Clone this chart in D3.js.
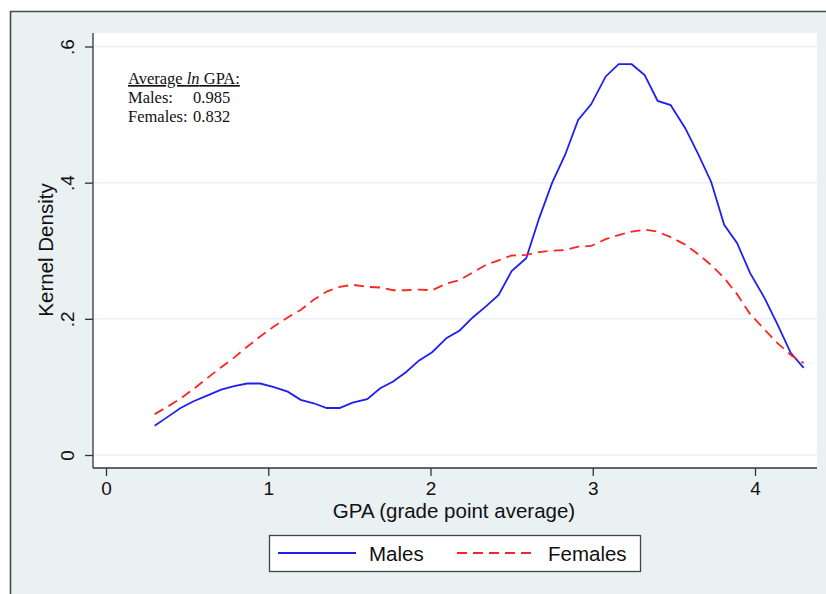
<!DOCTYPE html>
<html>
<head>
<meta charset="utf-8">
<script src="https://cdn.jsdelivr.net/npm/d3@7"></script>
<style>
  body { margin: 0; background: #fff; }
  svg text { font-family: "Liberation Sans", Arial, sans-serif; fill: #111; }
</style>
</head>
<body>
<svg id="densityChart" width="826" height="594"></svg>
<script>
// evaluation points of the kernel density (GPA)
var gpaPoints = [0.30, 0.38, 0.46, 0.54, 0.63, 0.71, 0.79, 0.87, 0.95, 1.03,
  1.12, 1.20, 1.28, 1.36, 1.44, 1.52, 1.61, 1.69, 1.77, 1.85,
  1.93, 2.01, 2.10, 2.18, 2.26, 2.34, 2.42, 2.50, 2.59, 2.67,
  2.75, 2.83, 2.91, 2.99, 3.08, 3.16, 3.24, 3.32, 3.40, 3.48,
  3.57, 3.65, 3.73, 3.81, 3.89, 3.97, 4.06, 4.14, 4.22, 4.30];
var malesDensity = [0.043, 0.056, 0.069, 0.079, 0.088, 0.096, 0.101, 0.105, 0.105, 0.100,
  0.093, 0.081, 0.076, 0.069, 0.069, 0.077, 0.082, 0.098, 0.108, 0.122,
  0.139, 0.151, 0.172, 0.183, 0.202, 0.218, 0.235, 0.270, 0.289, 0.348,
  0.400, 0.441, 0.492, 0.515, 0.556, 0.574, 0.574, 0.558, 0.520, 0.514,
  0.480, 0.442, 0.401, 0.338, 0.311, 0.267, 0.230, 0.191, 0.150, 0.128];
var femalesDensity = [0.060, 0.071, 0.083, 0.097, 0.114, 0.129, 0.143, 0.159, 0.174, 0.188,
  0.202, 0.213, 0.228, 0.240, 0.247, 0.250, 0.247, 0.246, 0.242, 0.242,
  0.243, 0.242, 0.252, 0.257, 0.268, 0.279, 0.286, 0.293, 0.294, 0.298,
  0.300, 0.301, 0.306, 0.307, 0.317, 0.323, 0.328, 0.331, 0.328, 0.320,
  0.309, 0.295, 0.279, 0.260, 0.236, 0.207, 0.184, 0.164, 0.147, 0.135];
var seriesNames = ["Males", "Females"];
var xTicks = [0, 1, 2, 3, 4];
var yTicks = [0, 0.2, 0.4, 0.6];
var yTickLabels = ["0", ".2", ".4", ".6"];
var noteTitle = ["Average ", "ln", " GPA:"];
var noteRows = [["Males:", "0.985"], ["Females:", "0.832"]];

var svg = d3.select("#densityChart");
var plotArea = {left: 93, right: 817, top: 33, bottom: 468};

// stata-like graph region
svg.append("rect").attr("x", 10).attr("y", 11).attr("width", 816).attr("height", 583)
  .attr("fill", "#eaf1f3");
svg.append("path").attr("d", "M10.5,594V11.5H826")
  .attr("fill", "none").attr("stroke", "#4a4a4a").attr("stroke-width", 1.6);
svg.append("rect").attr("x", plotArea.left).attr("y", plotArea.top)
  .attr("width", plotArea.right - plotArea.left).attr("height", plotArea.bottom - plotArea.top)
  .attr("fill", "#fff");

var x = d3.scaleLinear().domain([0, 4]).range([106, 755]);
var y = d3.scaleLinear().domain([0, 0.6]).range([455, 46.5]);

// gridlines
svg.append("g").selectAll("line").data(yTicks).enter().append("line")
  .attr("x1", plotArea.left).attr("x2", plotArea.right)
  .attr("y1", function(d){ return y(d); }).attr("y2", function(d){ return y(d); })
  .attr("stroke", "#e8f0f5").attr("stroke-width", 1.5);

// y axis
var yAxis = d3.axisLeft(y).tickValues(yTicks).tickSize(8).tickPadding(11)
  .tickFormat(function(d, i){ return yTickLabels[i]; });
var gy = svg.append("g").attr("transform", "translate(" + plotArea.left + ",0)").call(yAxis);
gy.select(".domain").attr("d", "M0," + plotArea.top + "V" + plotArea.bottom);
gy.selectAll(".tick line").attr("stroke", "#333").attr("stroke-width", 1.3);
gy.selectAll(".tick text").attr("font-size", 19)
  .attr("x", 0).attr("dy", 0).attr("text-anchor", "middle")
  .attr("transform", "translate(-19,0) rotate(-90)");
gy.select(".domain").attr("stroke", "#333").attr("stroke-width", 1.3);

// x axis
var xAxis = d3.axisBottom(x).tickValues(xTicks).tickSize(8).tickPadding(6).tickFormat(d3.format("d"));
var gx = svg.append("g").attr("transform", "translate(0," + plotArea.bottom + ")").call(xAxis);
gx.select(".domain").attr("d", "M" + plotArea.left + ",0H" + plotArea.right)
  .attr("stroke", "#333").attr("stroke-width", 1.3);
gx.selectAll(".tick line").attr("stroke", "#333").attr("stroke-width", 1.3);
gx.selectAll(".tick text").attr("font-size", 19).attr("dy", "0.71em");

// axis titles
svg.append("text").attr("x", 454).attr("y", 518).attr("text-anchor", "middle")
  .attr("font-size", 20.5).text("GPA (grade point average)");
svg.append("text").attr("transform", "translate(52.5,250) rotate(-90)")
  .attr("text-anchor", "middle").attr("font-size", 20.5).text("Kernel Density");

// density curves
var colors = {Males: "#1f1ff0", Females: "#ff2424"};
var dashes = {Males: null, Females: "10,6"};
var curves = [malesDensity, femalesDensity];
var line = d3.line()
  .x(function(d, i){ return x(gpaPoints[i]); })
  .y(function(d){ return y(d); });
svg.append("g").selectAll("path").data(curves).enter().append("path")
  .attr("d", line)
  .attr("fill", "none")
  .attr("stroke", function(d, i){ return colors[seriesNames[i]]; })
  .attr("stroke-width", 1.8)
  .attr("stroke-dasharray", function(d, i){ return dashes[seriesNames[i]]; });

// annotation
var note = svg.append("g").attr("font-family", "'Liberation Serif', 'Times New Roman', serif")
  .attr("font-size", 16.5);
var t0 = note.append("text").attr("x", 128).attr("y", 84)
  .style("font-family", "'Liberation Serif', 'Times New Roman', serif")
  .attr("text-decoration", "underline");
noteTitle.forEach(function(s, i){
  t0.append("tspan").attr("font-style", i == 1 ? "italic" : "normal").text(s);
});
noteRows.forEach(function(r, i){
  note.append("text").attr("x", 128).attr("y", 103 + i * 19)
    .style("font-family", "'Liberation Serif', 'Times New Roman', serif").text(r[0]);
  note.append("text").attr("x", 193).attr("y", 103 + i * 19)
    .style("font-family", "'Liberation Serif', 'Times New Roman', serif").text(r[1]);
});

// legend
var legend = svg.append("g");
legend.append("rect").attr("x", 269.5).attr("y", 535.5).attr("width", 371).attr("height", 36)
  .attr("fill", "#fff").attr("stroke", "#444").attr("stroke-width", 1.3);
var legendX = [278, 457];
seriesNames.forEach(function(name, i){
  legend.append("line").attr("x1", legendX[i]).attr("x2", legendX[i] + 78)
    .attr("y1", 553).attr("y2", 553)
    .attr("stroke", colors[name]).attr("stroke-width", 1.8)
    .attr("stroke-dasharray", dashes[name]);
  legend.append("text").attr("x", legendX[i] + 91).attr("y", 561)
    .attr("font-size", 20.5).text(name);
});
</script>
</body>
</html>
